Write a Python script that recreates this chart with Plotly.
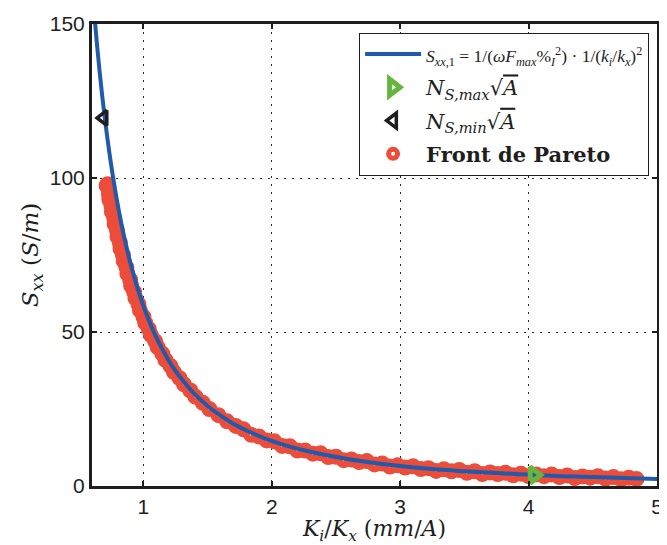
import plotly.graph_objects as go

# Fitted curve S_xx,1
curve_x = [0.62, 0.64, 0.66, 0.68, 0.70, 0.72, 0.74, 0.76, 0.78, 0.80, 0.83, 0.86, 0.90, 0.94, 0.98,
           1.02, 1.07, 1.12, 1.18, 1.25, 1.32, 1.40, 1.5, 1.6, 1.7, 1.8, 1.95, 2.1, 2.25, 2.4, 2.6,
           2.8, 3.0, 3.25, 3.5, 3.75, 4.0, 4.25, 4.5, 4.75, 5.0]
curve_y = [152.2, 142.8, 134.3, 126.5, 119.4, 112.8, 106.8, 101.3, 96.2, 91.4, 84.9, 79.1, 72.2, 66.2, 60.9,
           56.2, 51.1, 46.6, 42.0, 37.4, 33.6, 29.8, 26.0, 22.9, 20.2, 18.1, 15.4, 13.3, 11.6, 10.2, 8.7,
           7.5, 6.5, 5.5, 4.8, 4.2, 3.7, 3.2, 2.9, 2.6, 2.3]

# Special points
nmax_x = [4.04]
nmax_y = [3.56]
nmin_x = [0.69]
nmin_y = [119.5]

# Pareto front points
pareto_x = [0.714, 0.722, 0.731, 0.735, 0.752, 0.755, 0.773, 0.776, 0.794, 0.798, 0.817, 0.822, 0.841,
            0.847, 0.868, 0.875, 0.897, 0.905, 0.928, 0.938, 0.962, 0.974, 1.000, 1.014, 1.042, 1.059,
            1.092, 1.112, 1.147, 1.171, 1.211, 1.238, 1.282, 1.316, 1.366, 1.405, 1.463, 1.514, 1.585,
            1.652, 1.720,
            1.78, 1.84, 1.90, 1.96, 2.02, 2.08, 2.14, 2.20, 2.26, 2.32, 2.38, 2.44, 2.50, 2.56, 2.62,
            2.68, 2.74, 2.80, 2.86, 2.92, 2.98, 3.04, 3.10, 3.16, 3.22, 3.28, 3.34, 3.40, 3.46, 3.52,
            3.58, 3.64, 3.70, 3.76, 3.82, 3.88, 3.94, 4.00, 4.06, 4.12, 4.18, 4.24, 4.30, 4.36, 4.42,
            4.48, 4.54, 4.60, 4.66, 4.72, 4.78, 4.84]
pareto_y = [97.5, 98.0, 95.0, 93.0, 91.0, 89.0, 87.0, 85.0, 83.0, 81.0, 79.0, 77.0, 75.0,
            73.0, 71.0, 69.0, 67.0, 65.0, 63.0, 61.0, 59.0, 57.0, 55.0, 53.0, 51.0, 49.0,
            47.0, 45.0, 43.0, 41.0, 39.0, 37.0, 35.0, 33.0, 31.0, 29.0, 27.0, 25.0, 23.0,
            21.0, 19.5,
            18.4, 16.6, 16.1, 14.8, 14.5, 13.0, 12.9, 11.5, 11.5, 10.5, 10.6, 9.4, 9.5, 8.4, 8.6,
            7.8, 8.1, 7.0, 7.3, 6.3, 6.7, 6.0, 6.4, 5.5, 5.8, 4.9, 5.4, 4.8, 5.2, 4.3,
            4.8, 3.9, 4.4, 3.9, 4.3, 3.5, 4.0, 3.2, 3.7, 3.2, 3.7, 2.9, 3.4, 2.6, 3.1,
            2.7, 3.2, 2.4, 2.9, 2.2, 2.7, 2.3]

x_ticks = [1, 2, 3, 4, 5]
y_ticks = [0, 50, 100, 150]

RED = "rgb(236,76,58)"
BLUE = "rgb(32,90,170)"
GREEN = "rgb(100,182,60)"
BLACK = "rgb(30,30,30)"

fig = go.Figure()

fig.add_trace(go.Scatter(
    x=pareto_x, y=pareto_y, mode="markers",
    name="<b>Front de Pareto</b>",
    marker=dict(symbol="circle-open", size=9, color=RED, line=dict(width=7, color=RED)),
    legendrank=4, legendgroup="d"))

fig.add_trace(go.Scatter(
    x=curve_x, y=curve_y, mode="lines", line_shape="spline",
    name=("<span style=\"font-family:Liberation Serif;font-size:17.5px\">"
          "<i>S</i><sub><i>xx</i>,1</sub> = 1/(<i>ωF</i><sub><i>max</i></sub>%<sub><i>I</i></sub><sup>2</sup>)"
          " · 1/(<i>k<sub>i</sub></i>/<i>k<sub>x</sub></i>)<sup>2</sup></span>"),
    line=dict(color=BLUE, width=4),
    legendrank=1, legendgroup="a"))

fig.add_trace(go.Scatter(
    x=nmax_x, y=nmax_y, mode="markers",
    name="<i>N</i><sub><i>S,max</i></sub>√<span style=\"text-decoration:overline\"><i>A</i></span>",
    marker=dict(symbol="triangle-right-open", size=14, color=GREEN, line=dict(width=5, color=GREEN)),
    legendrank=2, legendgroup="b"))

fig.add_trace(go.Scatter(
    x=nmin_x, y=nmin_y, mode="markers",
    name="<i>N</i><sub><i>S,min</i></sub>√<span style=\"text-decoration:overline\"><i>A</i></span>",
    marker=dict(symbol="triangle-left-open", size=13, color=BLACK, line=dict(width=3.5, color=BLACK)),
    legendrank=3, legendgroup="c"))

axis_common = dict(
    showline=True, linewidth=3, linecolor=BLACK, mirror="ticks",
    ticks="inside", ticklen=5, tickwidth=2, tickcolor=BLACK,
    showgrid=True, gridcolor="rgb(40,40,40)", gridwidth=1, griddash="2px,6px",
    zeroline=False,
    tickfont=dict(family="Liberation Sans, Arial, sans-serif", size=21, color="rgb(30,30,30)"),
)

# The page body adds an 8px offset; figure sized/margined so the plot area matches the reference
fig.update_layout(
    width=659, height=537,
    margin=dict(l=84, r=4, t=15, b=59),
    paper_bgcolor="white", plot_bgcolor="white",
    showlegend=True,
    legend=dict(
        x=0.986, y=0.981, xanchor="right", yanchor="top",
        bgcolor="white", bordercolor=BLACK, borderwidth=1,
        font=dict(family="DejaVu Serif, serif", size=21, color="rgb(30,30,30)"),
        tracegroupgap=3, itemwidth=56,
    ),
    xaxis=dict(
        range=[0.6, 5], tickvals=x_ticks,
        title=dict(text="<i>K<sub>i</sub></i>/<i>K<sub>x</sub></i> (<i>mm</i>/<i>A</i>)",
                   font=dict(family="DejaVu Serif, serif", size=22, color="rgb(30,30,30)"),
                   standoff=7),
        **axis_common),
    yaxis=dict(
        range=[0, 150], tickvals=y_ticks,
        title=dict(text="<i>S<sub>xx</sub></i> (<i>S</i>/<i>m</i>)",
                   font=dict(family="DejaVu Serif, serif", size=23, color="rgb(30,30,30)"),
                   standoff=5),
        **axis_common),
)

fig.write_html("out.html")
